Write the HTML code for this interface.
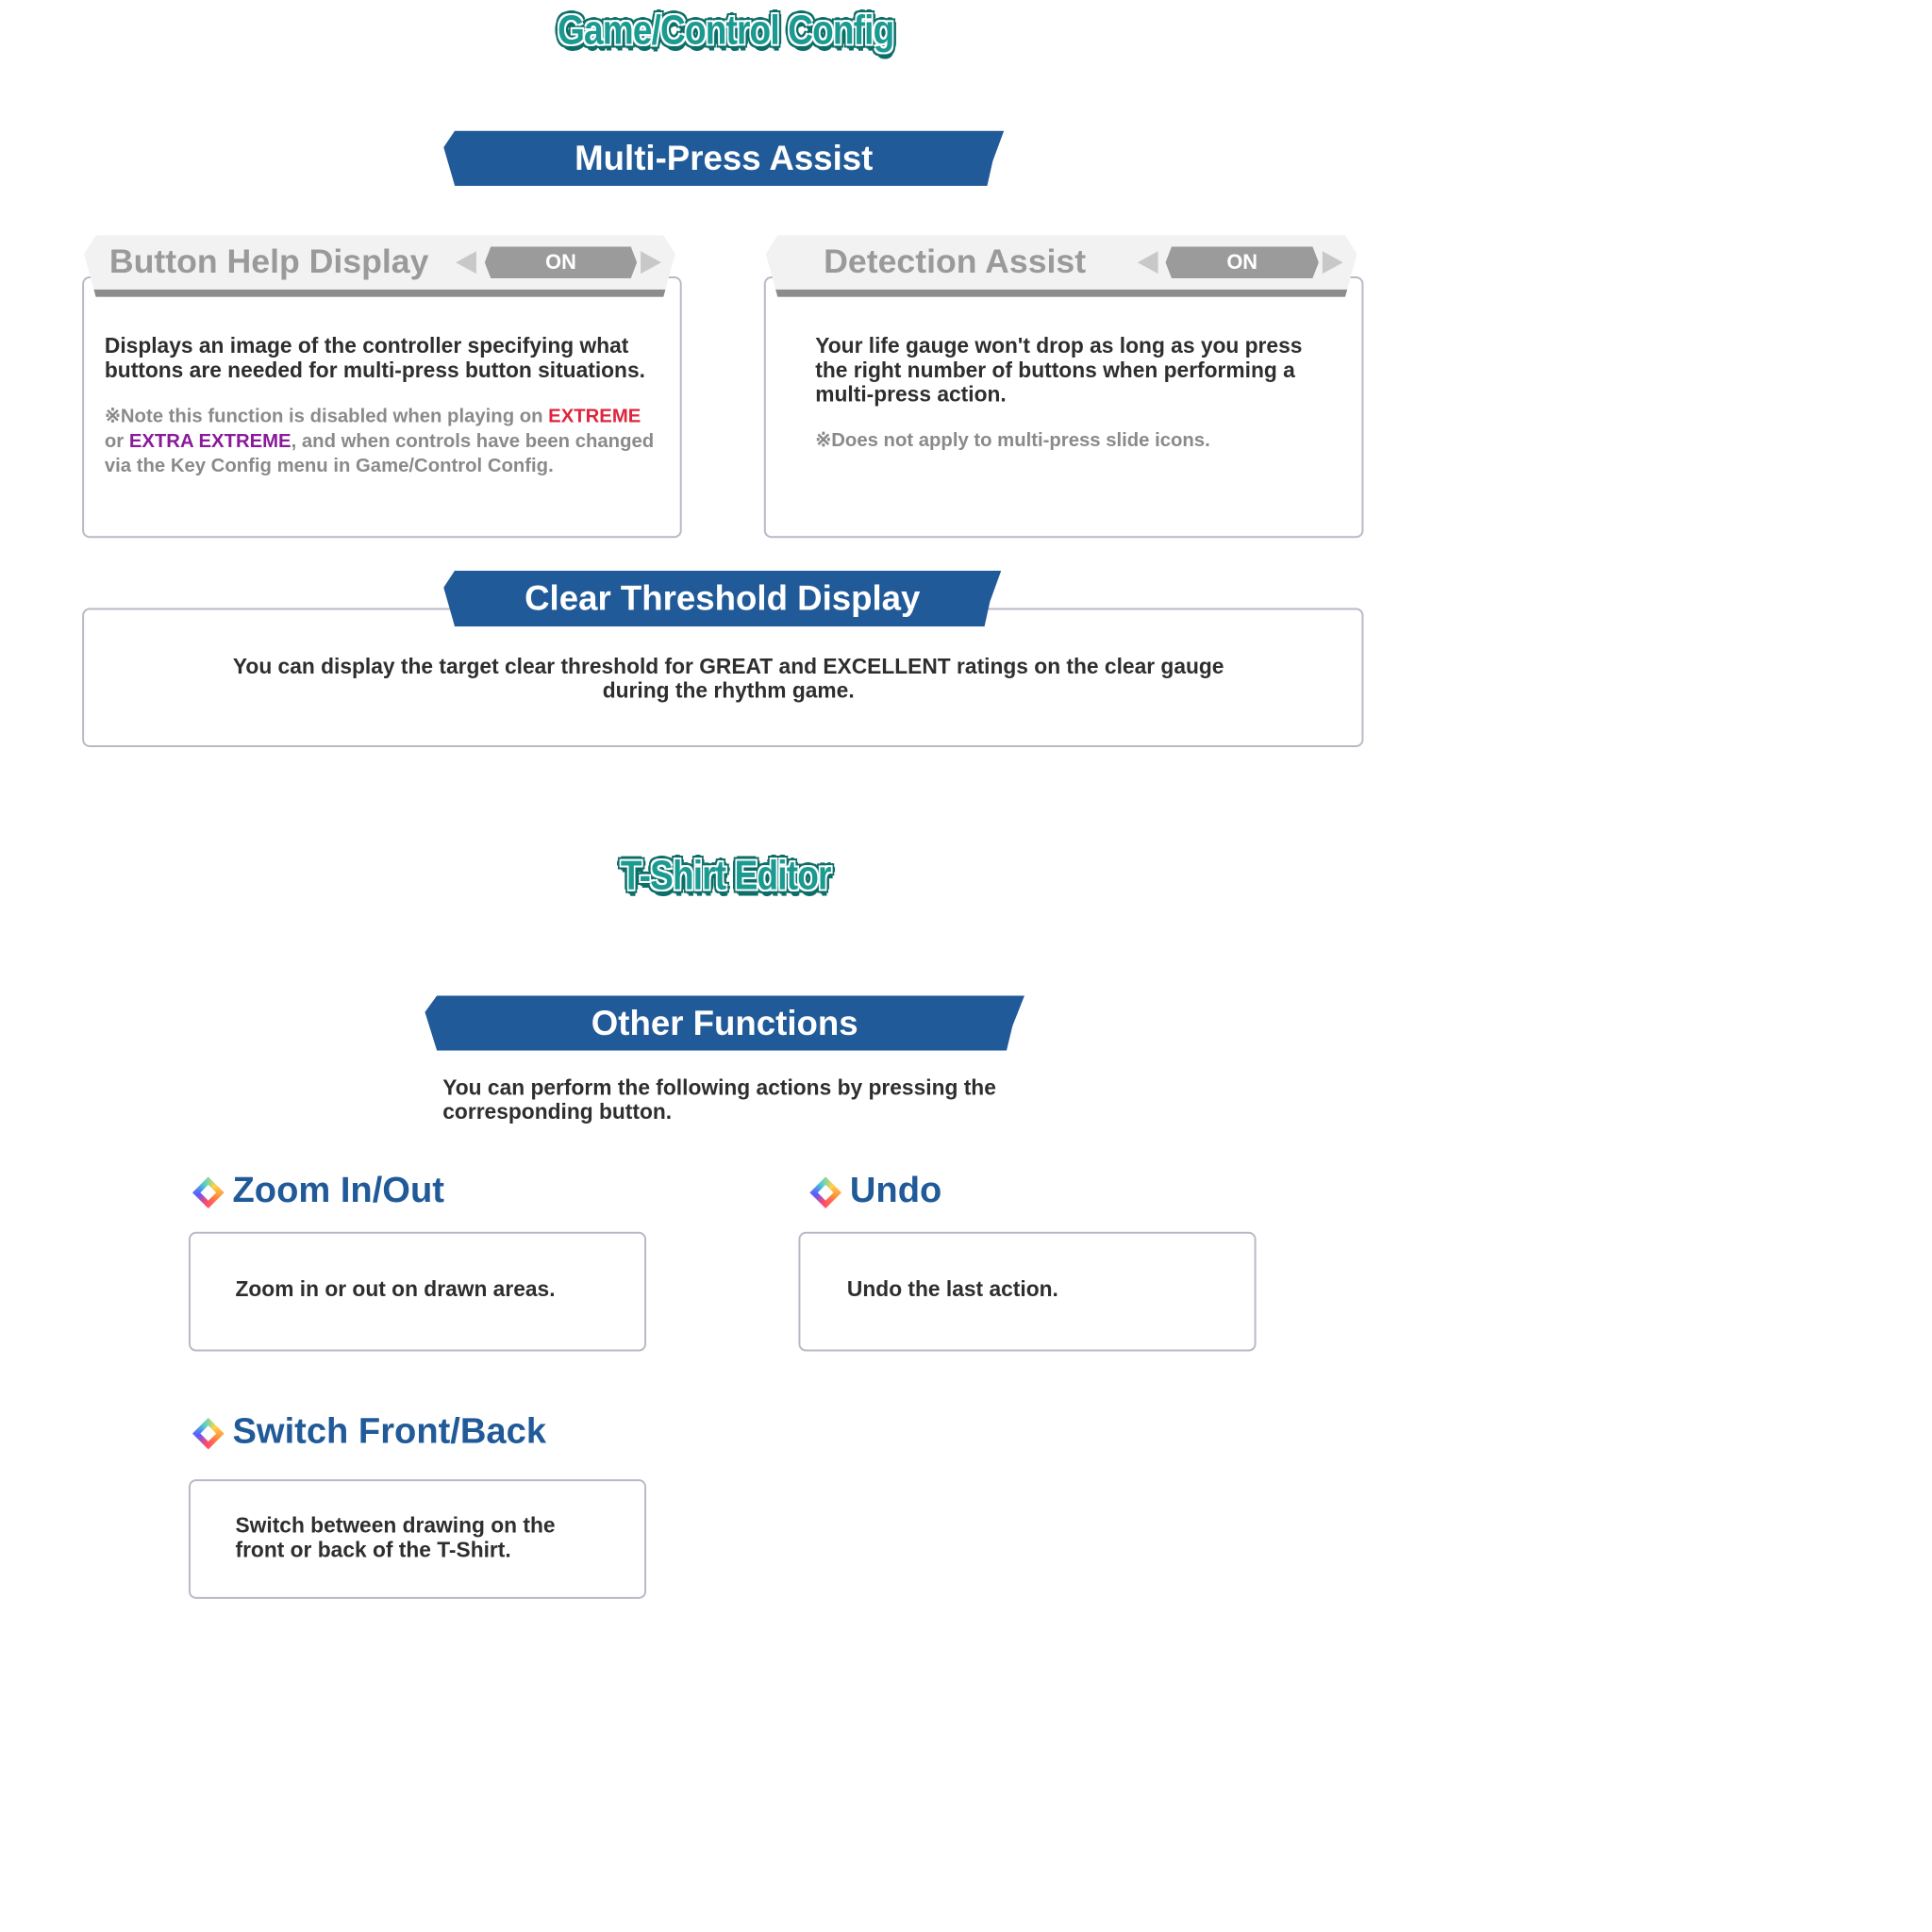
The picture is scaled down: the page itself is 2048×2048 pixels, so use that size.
<!DOCTYPE html>
<html><head><meta charset="utf-8"><style>
html,body{margin:0;padding:0;background:#fff;}
body{width:2048px;height:2048px;position:relative;overflow:hidden;font-family:"Liberation Sans",sans-serif;}
#w{position:absolute;left:0;top:0;width:2048px;height:2048px;transform:scale(0.99);transform-origin:0 0;}
.title{position:absolute;font-weight:bold;font-size:44px;color:#1a9a90;white-space:nowrap;transform:translateX(-50%) scaleX(0.85);letter-spacing:-1px;
text-shadow:2px 2px 0 #fff,-2px -2px 0 #fff,2px -2px 0 #fff,-2px 2px 0 #fff,4px 4px 0 #0d6e68,-4px -4px 0 #0d6e68,4px -4px 0 #0d6e68,-4px 4px 0 #0d6e68,0 5px 0 #0d6e68,5px 0 0 #0d6e68,-5px 0 0 #0d6e68,0 -5px 0 #0d6e68,2px 7px 0 #0d6e68;}
.banner{position:absolute;background:#215a98;color:#fff;font-weight:bold;font-size:37px;text-align:center;clip-path:polygon(2% 0,100% 0,98% 55%,97% 100%,2% 100%,0 30%);}
.box{position:absolute;border:2px solid #b9b9c6;border-radius:8px;background:#fff;box-sizing:border-box;}
.txt{position:absolute;font-size:23px;line-height:26px;color:#2e2e2e;font-weight:bold;white-space:nowrap;}
.note{position:absolute;font-size:20.5px;line-height:26.5px;color:#8a8a8a;font-weight:bold;white-space:nowrap;}
.tab{position:absolute;background:#f2f2f2;border-bottom:8px solid #8c8c8c;clip-path:polygon(2% 0,98% 0,100% 30%,98% 100%,2% 100%,0 30%);box-sizing:border-box;}
.tabt{position:absolute;font-size:36px;font-weight:bold;color:#9a9a9a;white-space:nowrap;}
.pill{position:absolute;background:#9b9b9b;color:#fff;font-weight:bold;font-size:22px;text-align:center;clip-path:polygon(4% 0,96% 0,100% 50%,96% 100%,4% 100%,0 50%);}
.arr{position:absolute;width:0;height:0;border-top:12px solid transparent;border-bottom:12px solid transparent;}
.h{position:absolute;font-size:38.5px;font-weight:bold;color:#215a98;white-space:nowrap;}
.ic{position:absolute;width:24px;height:24px;transform:rotate(45deg);background:conic-gradient(#ffd54a,#ff8a3a,#ff4a6a,#5a5aff,#4ad0d0,#ffd54a);}
.ic::after{content:"";position:absolute;left:6px;top:6px;width:12px;height:12px;background:#fff;}
</style></head><body><div id="w">

<div class="title" style="left:777px;top:8px;">Game/Control Config</div>

<div class="banner" style="left:475px;top:140px;width:600px;height:59px;line-height:59px;">Multi-Press Assist</div>

<div class="box" style="left:88px;top:296px;width:642px;height:280px;"></div>
<div class="tab" style="left:90px;top:252px;width:633px;height:66px;"></div>
<div class="tabt" style="left:117px;top:259px;">Button Help Display</div>
<div class="arr" style="left:488px;top:269px;border-right:22px solid #c8c8c8;"></div>
<div class="pill" style="left:519px;top:264px;width:163px;height:34px;line-height:34px;">ON</div>
<div class="arr" style="left:686px;top:269px;border-left:22px solid #c8c8c8;"></div>
<div class="txt" style="left:112px;top:357px;">Displays an image of the controller specifying what<br>buttons are needed for multi-press button situations.</div>
<div class="note" style="left:112px;top:433px;">※Note this function is disabled when playing on <span style="color:#e0243c">EXTREME</span><br>or <span style="color:#8a1a9a">EXTRA EXTREME</span>, and when controls have been changed<br>via the Key Config menu in Game/Control Config.</div>

<div class="box" style="left:818px;top:296px;width:642px;height:280px;"></div>
<div class="tab" style="left:820px;top:252px;width:633px;height:66px;"></div>
<div class="tabt" style="left:882px;top:259px;">Detection Assist</div>
<div class="arr" style="left:1218px;top:269px;border-right:22px solid #c8c8c8;"></div>
<div class="pill" style="left:1248px;top:264px;width:164px;height:34px;line-height:34px;">ON</div>
<div class="arr" style="left:1416px;top:269px;border-left:22px solid #c8c8c8;"></div>
<div class="txt" style="left:873px;top:357px;">Your life gauge won't drop as long as you press<br>the right number of buttons when performing a<br>multi-press action.</div>
<div class="note" style="left:873px;top:459px;">※Does not apply to multi-press slide icons.</div>

<div class="box" style="left:88px;top:651px;width:1372px;height:149px;"></div>
<div class="banner" style="left:475px;top:611px;width:597px;height:60px;line-height:60px;">Clear Threshold Display</div>
<div class="txt" style="left:88px;width:1384px;text-align:center;top:700px;">You can display the target clear threshold for GREAT and EXCELLENT ratings on the clear gauge<br>during the rhythm game.</div>

<div class="title" style="left:777px;top:913px;">T-Shirt Editor</div>

<div class="banner" style="left:455px;top:1066px;width:642px;height:59px;line-height:59px;">Other Functions</div>
<div class="txt" style="left:474px;top:1151px;">You can perform the following actions by pressing the<br>corresponding button.</div>

<div class="ic" style="left:211px;top:1265px;"></div>
<div class="h" style="left:249px;top:1253px;">Zoom In/Out</div>
<div class="box" style="left:202px;top:1319px;width:490px;height:128px;"></div>
<div class="txt" style="left:252px;top:1367px;">Zoom in or out on drawn areas.</div>

<div class="ic" style="left:872px;top:1265px;"></div>
<div class="h" style="left:910px;top:1253px;">Undo</div>
<div class="box" style="left:855px;top:1319px;width:490px;height:128px;"></div>
<div class="txt" style="left:907px;top:1367px;">Undo the last action.</div>

<div class="ic" style="left:211px;top:1523px;"></div>
<div class="h" style="left:249px;top:1511px;">Switch Front/Back</div>
<div class="box" style="left:202px;top:1584px;width:490px;height:128px;"></div>
<div class="txt" style="left:252px;top:1620px;">Switch between drawing on the<br>front or back of the T-Shirt.</div>

</div></body></html>
